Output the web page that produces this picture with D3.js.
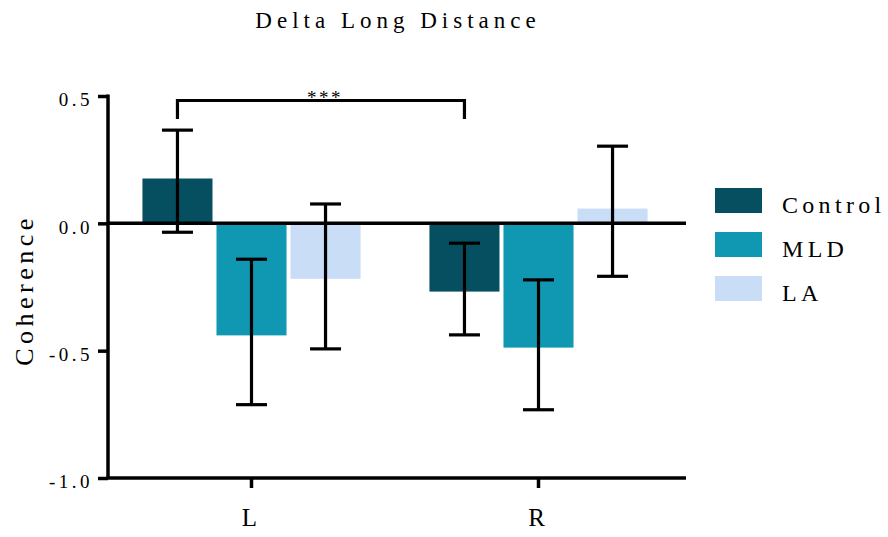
<!DOCTYPE html>
<html><head><meta charset="utf-8">
<script src="https://cdn.jsdelivr.net/npm/d3@7/dist/d3.min.js"></script>
<style>body{margin:0;background:#fff}svg{display:block}</style>
</head><body><svg id="c" width="888" height="537"></svg>
<script>
const categories = ["L", "R"];
const seriesNames = ["Control", "MLD", "LA"];
const means = { Control: [0.176, -0.268], MLD: [-0.44, -0.488], LA: [-0.218, 0.058] };
const errUpper = { Control: [0.366, -0.078], MLD: [-0.141, -0.222], LA: [0.076, 0.303] };
const errLower = { Control: [-0.035, -0.438], MLD: [-0.712, -0.732], LA: [-0.493, -0.208] };
const yTicks = [0.5, 0.0, -0.5, -1.0];
const yTickLabels = ["0.5", "0.0", "-0.5", "-1.0"];
const colors = { Control: "#064f61", MLD: "#1098b2", LA: "#c9ddf6" };
const title = "Delta Long Distance";
const yLabel = "Coherence";

const FONT = "'Liberation Serif', 'Times New Roman', Times, serif";
const svg = d3.select("#c");
const mLeft = 108, mRight = 686, mTop = 96, mBottom = 478;
const y = d3.scaleLinear().domain([-1, 0.5]).range([mBottom, mTop]);
const x0 = d3.scaleBand().domain(categories).range([mLeft, 682]).paddingInner(0.24).paddingOuter(0.12);
const x1 = d3.scaleBand().domain(seriesNames).range([0, x0.bandwidth()]).paddingInner(4/74).paddingOuter(0);

const data = [];
categories.forEach((c, i) => seriesNames.forEach(s => data.push({ c, s, v: means[s][i], hi: errUpper[s][i], lo: errLower[s][i] })));

// bars
svg.append("g").selectAll("rect").data(data).join("rect")
  .attr("x", d => x0(d.c) + x1(d.s))
  .attr("width", x1.bandwidth())
  .attr("y", d => y(Math.max(0, d.v)))
  .attr("height", d => Math.abs(y(d.v) - y(0)))
  .attr("fill", d => colors[d.s]);

// zero line
svg.append("line").attr("x1", mLeft).attr("x2", mRight).attr("y1", y(0)).attr("y2", y(0))
  .attr("stroke", "#000").attr("stroke-width", 3.5);

// error bars
const eg = svg.append("g").attr("stroke", "#000").attr("stroke-width", 3.2);
data.forEach(d => {
  const cx = x0(d.c) + x1(d.s) + x1.bandwidth() / 2;
  eg.append("line").attr("x1", cx).attr("x2", cx).attr("y1", y(d.hi)).attr("y2", y(d.lo));
  [d.hi, d.lo].forEach(v => eg.append("line").attr("x1", cx - 15.5).attr("x2", cx + 15.5).attr("y1", y(v)).attr("y2", y(v)));
});

// y axis
const ya = svg.append("g").attr("transform", `translate(${mLeft},0)`)
  .call(d3.axisLeft(y).tickValues(yTicks).tickSize(10).tickPadding(5).tickFormat((d, i) => yTickLabels[i]));
ya.select(".domain").attr("d", `M0,${mTop - 1.5}V${mBottom}`).attr("stroke-width", 3.5);
ya.selectAll(".tick line").attr("stroke-width", 3.5);
ya.selectAll(".tick text").attr("dy", "0.52em").style("font-family", FONT).style("font-size", "19px").style("letter-spacing", "3.5px");

// x axis
const xa = svg.append("g").attr("transform", `translate(0,${mBottom})`)
  .call(d3.axisBottom(x0).tickSize(10).tickPadding(20));
xa.select(".domain").attr("d", `M${mLeft - 1.5},0H${mRight}`).attr("stroke-width", 3.5);
xa.selectAll(".tick line").attr("stroke-width", 3.5);
xa.selectAll(".tick text").attr("dx", "-2").style("font-family", FONT).style("font-size", "25px");

// significance bracket
const bx1 = x0("L") + x1("Control") + x1.bandwidth() / 2;
const bx2 = x0("R") + x1("Control") + x1.bandwidth() / 2;
svg.append("text").attr("x", (bx1 + bx2) / 2 + 4).attr("y", 104).attr("text-anchor", "middle")
  .style("font-family", FONT).style("font-size", "19px").style("letter-spacing", "2.5px").text("***");
svg.append("path").attr("d", `M${bx1},${119}V100.5H${bx2}V${119}`)
  .attr("fill", "none").attr("stroke", "#000").attr("stroke-width", 3.2);

// title
svg.append("text").attr("x", 398).attr("y", 28).attr("text-anchor", "middle")
  .style("font-family", FONT).style("font-size", "23px").style("letter-spacing", "5px").text(title);

// y label
svg.append("text").attr("transform", `translate(33,${290}) rotate(-90)`).attr("text-anchor", "middle")
  .style("font-family", FONT).style("font-size", "26px").style("letter-spacing", "4.5px").text(yLabel);

// legend
const lg = svg.append("g");
seriesNames.forEach((s, i) => {
  const yy = 188 + i * 44;
  lg.append("rect").attr("x", 715).attr("y", yy).attr("width", 47).attr("height", 25).attr("fill", colors[s]);
  lg.append("text").attr("x", 782).attr("y", yy + 24.5)
    .style("font-family", FONT).style("font-size", "24px").style("letter-spacing", "4.3px").text(s);
});
</script></body></html>
